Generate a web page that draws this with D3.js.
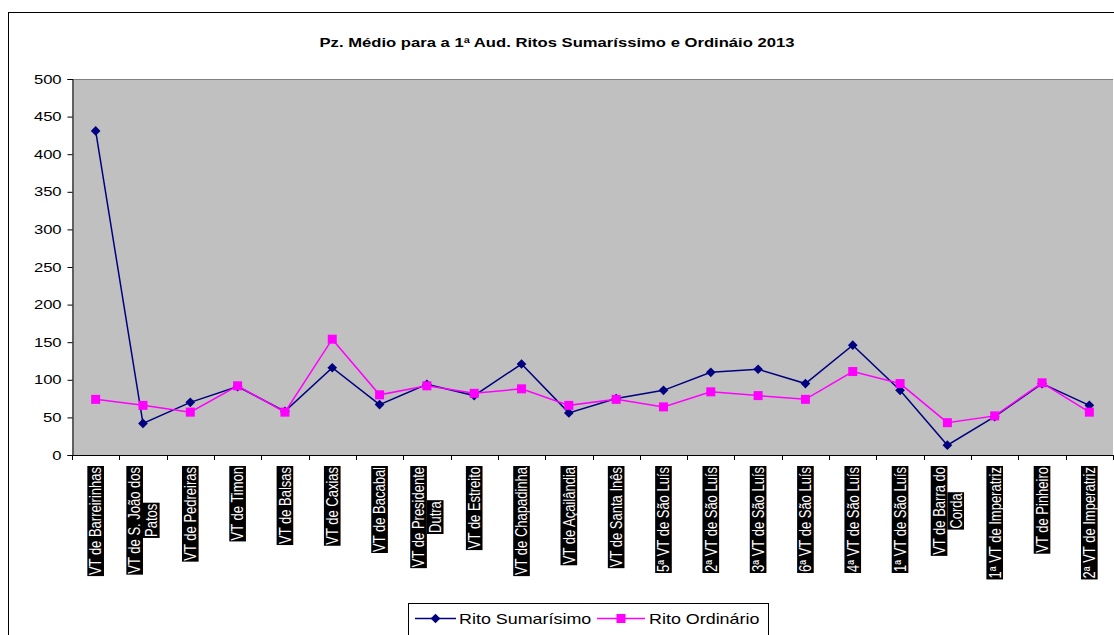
<!DOCTYPE html>
<html>
<head>
<meta charset="utf-8">
<script src="https://cdn.jsdelivr.net/npm/d3@7"></script>
<style>
  body { margin: 0; background: #fff; }
  svg text { font-family: Arial, "Liberation Sans", sans-serif; }
</style>
</head>
<body>
<div id="chart"></div>
<script>
var categories = [
  "VT de Barreirinhas", "VT de S. João dos\nPatos", "VT de Pedreiras", "VT de Timon",
  "VT de Balsas", "VT de Caxias", "VT de Bacabal", "VT de Presidente\nDutra",
  "VT de Estreito", "VT de Chapadinha", "VT de Açailândia", "VT de Santa Inês",
  "5ª VT de São Luís", "2ª VT de São Luís", "3ª VT de São Luís", "6ª VT de São Luís",
  "4ª VT de São Luís", "1ª VT de São Luís", "VT de Barra do\nCorda", "1ª VT de Imperatriz",
  "VT de Pinheiro", "2ª VT de Imperatriz"
];
var sumarissimo = [431, 42, 70, 91, 58, 116, 67, 94, 79, 121, 56, 75, 86, 110, 114, 95, 146, 86, 13, 51, 95, 66];
var ordinario = [74, 66, 57, 92, 57, 154, 80, 92, 82, 88, 66, 74, 64, 84, 79, 74, 111, 95, 43, 52, 96, 57];
var y_ticks = [0, 50, 100, 150, 200, 250, 300, 350, 400, 450, 500];
var title_text = "Pz. Médio para a 1ª Aud. Ritos Sumaríssimo e Ordináio 2013";
var series_names = ["Rito Sumarísimo", "Rito Ordinário"];

var W = 1114, H = 635;
var sx = 1.28; // text in the original is stretched horizontally

var plot_left = 72, plot_right = 1113, plot_top = 79, plot_bottom = 455;

var x_ax = d3.scaleBand()
  .domain(d3.range(categories.length))
  .range([plot_left, plot_right]);
var y_ax = d3.scaleLinear()
  .domain([0, 500])
  .range([plot_bottom, plot_top]);

var svg = d3.select("#chart").append("svg")
  .attr("width", W)
  .attr("height", H);

// outer frame
svg.append("rect")
  .attr("x", 8.5).attr("y", 12.5)
  .attr("width", 1300).attr("height", 800)
  .attr("fill", "#fff").attr("stroke", "#000").attr("stroke-width", 1);

// title
svg.append("g")
  .attr("transform", "translate(557,47) scale(" + sx + ",1)")
  .append("text")
    .attr("text-anchor", "middle")
    .attr("font-size", 13)
    .attr("font-weight", "bold")
    .text(title_text);

// plot area
svg.append("rect")
  .attr("x", plot_left).attr("y", plot_top)
  .attr("width", plot_right - plot_left).attr("height", plot_bottom - plot_top)
  .attr("fill", "#c0c0c0");
svg.append("line")
  .attr("x1", plot_left).attr("x2", plot_right)
  .attr("y1", plot_top + 0.5).attr("y2", plot_top + 0.5)
  .attr("stroke", "#808080").attr("stroke-width", 1);

// y axis
var y_axis = svg.append("g")
  .attr("transform", "translate(" + (plot_left + 0.5) + ",0)")
  .call(d3.axisLeft(y_ax).tickValues(y_ticks).tickSize(5).tickPadding(3.5));
y_axis.select(".domain").attr("stroke", "#000");
y_axis.selectAll("text")
  .attr("font-size", 13)
  .attr("font-family", "Arial, 'Liberation Sans', sans-serif")
  .attr("fill", "#000")
  .attr("transform", "scale(" + sx + ",1)");

// x axis line + ticks at category boundaries
svg.append("line")
  .attr("x1", plot_left).attr("x2", plot_right)
  .attr("y1", plot_bottom + 0.5).attr("y2", plot_bottom + 0.5)
  .attr("stroke", "#000");
var bounds = d3.range(categories.length + 1).map(function(i) {
  return i < categories.length ? x_ax(i) : x_ax(i - 1) + x_ax.bandwidth();
});
svg.selectAll(".xtick")
  .data(bounds)
  .enter()
    .append("line")
      .attr("class", "xtick")
      .attr("x1", function(d) { return Math.round(d) + 0.5; })
      .attr("x2", function(d) { return Math.round(d) + 0.5; })
      .attr("y1", plot_bottom)
      .attr("y2", plot_bottom + 5)
      .attr("stroke", "#000");

// category labels: rotated, white on black
var lh = 13;
var labels = svg.selectAll(".xlabel")
  .data(categories)
  .enter()
    .append("g")
      .attr("class", "xlabel")
      .attr("transform", function(d, i) {
        return "translate(" + (x_ax(i) + x_ax.bandwidth() / 2) + ",467) rotate(-90) scale(1," + sx + ")";
      });
labels.each(function(d) {
  var g = d3.select(this);
  var lines = d.split("\n");
  var texts = lines.map(function(t, k) {
    return g.append("text")
      .attr("font-size", 13)
      .attr("fill", "#fff")
      .attr("text-anchor", "middle")
      .attr("dy", "0.35em")
      .text(t);
  });
  var widths = texts.map(function(t) { return t.node().getComputedTextLength(); });
  var maxW = d3.max(widths);
  var top = -lines.length * lh / 2;
  texts.forEach(function(t, k) {
    var cy = top + k * lh + lh / 2;
    g.insert("rect", "text")
      .attr("x", -maxW / 2 - widths[k] / 2 - 1)
      .attr("y", cy - lh / 2)
      .attr("width", widths[k] + 2)
      .attr("height", lh)
      .attr("fill", "#000");
    t.attr("x", -maxW / 2).attr("y", cy);
  });
});

// series
var line_gen = d3.line()
  .x(function(d, i) { return x_ax(i) + x_ax.bandwidth() / 2; })
  .y(function(d) { return y_ax(d); });

svg.append("path")
  .attr("d", line_gen(sumarissimo))
  .attr("fill", "none")
  .attr("stroke", "#000080")
  .attr("stroke-width", 1.5);
svg.append("path")
  .attr("d", line_gen(ordinario))
  .attr("fill", "none")
  .attr("stroke", "#ff00ff")
  .attr("stroke-width", 1.5);

var diamond = d3.symbol().type(d3.symbolDiamond2).size(60);
svg.selectAll(".pt_sum")
  .data(sumarissimo)
  .enter()
    .append("path")
      .attr("class", "pt_sum")
      .attr("d", diamond)
      .attr("transform", function(d, i) {
        return "translate(" + (x_ax(i) + x_ax.bandwidth() / 2) + "," + y_ax(d) + ")";
      })
      .attr("fill", "#000080");
svg.selectAll(".pt_ord")
  .data(ordinario)
  .enter()
    .append("rect")
      .attr("class", "pt_ord")
      .attr("x", function(d, i) { return x_ax(i) + x_ax.bandwidth() / 2 - 4.5; })
      .attr("y", function(d) { return y_ax(d) - 4.5; })
      .attr("width", 9)
      .attr("height", 9)
      .attr("fill", "#ff00ff");

// legend
var legend = svg.append("g");
legend.append("rect")
  .attr("x", 408.5).attr("y", 603.5)
  .attr("width", 360).attr("height", 45)
  .attr("fill", "#fff").attr("stroke", "#000");
var leg_items = [
  { x0: 415, x1: 456, tx: 459, color: "#000080", name: series_names[0], marker: "diamond" },
  { x0: 597, x1: 645, tx: 649, color: "#ff00ff", name: series_names[1], marker: "square" }
];
leg_items.forEach(function(it) {
  legend.append("line")
    .attr("x1", it.x0).attr("x2", it.x1)
    .attr("y1", 618.5).attr("y2", 618.5)
    .attr("stroke", it.color).attr("stroke-width", 1.5);
  var mx = (it.x0 + it.x1) / 2;
  if (it.marker == "diamond") {
    legend.append("path")
      .attr("d", diamond)
      .attr("transform", "translate(" + mx + ",618.5)")
      .attr("fill", it.color);
  } else {
    legend.append("rect")
      .attr("x", mx - 4.5).attr("y", 614)
      .attr("width", 9).attr("height", 9)
      .attr("fill", it.color);
  }
  legend.append("g")
    .attr("transform", "translate(" + it.tx + ",623.5) scale(" + sx + ",1)")
    .append("text")
      .attr("font-size", 14)
      .text(it.name);
});
</script>
</body>
</html>
